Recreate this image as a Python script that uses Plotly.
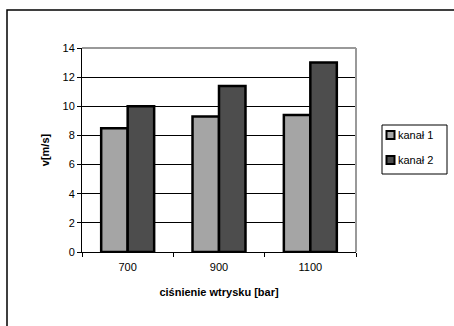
import plotly.graph_objects as go

categories = ["700", "900", "1100"]
kanal1 = [8.5, 9.3, 9.4]
kanal2 = [10.0, 11.4, 13.0]
series_names = ["kanał 1", "kanał 2"]
series_colors = ["#a5a5a5", "#4d4d4d"]
yticks = [0, 2, 4, 6, 8, 10, 12, 14]

FONT = "Liberation Sans, Arial, sans-serif"

fig = go.Figure()
for vals, name, col in zip([kanal1, kanal2], series_names, series_colors):
    fig.add_trace(go.Bar(x=categories, y=vals, name=name,
                         marker=dict(color=col, line=dict(color="black", width=2.5))))

W, H = 454, 326
L, R, T, B = 82, 98, 48, 74
pw, ph = W - L - R, H - T - B

def px(x):
    return (x - L) / pw

def py(y):
    return (H - B - y) / ph

fig.update_layout(
    width=W, height=H,
    margin=dict(l=L, r=R, t=T, b=B, pad=0),
    paper_bgcolor="white", plot_bgcolor="white",
    font=dict(family=FONT, size=11, color="black"),
    barmode="group", bargap=0.42, bargroupgap=0,
    showlegend=False,
    xaxis=dict(showline=True, linecolor="black", linewidth=1,
               ticks="outside", tickson="boundaries", ticklen=4, tickcolor="black",
               ticklabelstandoff=5,
               title=dict(text="<b>ciśnienie wtrysku [bar]</b>", standoff=16,
                          font=dict(family=FONT, size=11)),
               tickfont=dict(family=FONT, size=11), mirror=False),
    yaxis=dict(range=[0, 14], tickvals=yticks, showline=True, linecolor="black", linewidth=1,
               ticks="outside", ticklen=4, tickcolor="black",
               showgrid=True, gridcolor="black", gridwidth=1, zeroline=False,
               title=dict(text="<b>v[m/s]</b>", standoff=10, font=dict(family=FONT, size=11)),
               tickfont=dict(family=FONT, size=11)),
)

# plot-area top/right grey border
fig.add_shape(type="line", xref="paper", yref="paper", x0=0, x1=1, y0=1, y1=1,
              line=dict(color="#999999", width=2))
fig.add_shape(type="line", xref="paper", yref="paper", x0=1, x1=1, y0=0, y1=1,
              line=dict(color="#999999", width=2))
# outer chart border: top and left edges only
x0, y0, x1, y1 = px(7), py(10), px(454), py(326)
fig.add_shape(type="path", xref="paper", yref="paper",
              path=f"M {x1} {y0} L {x0} {y0} L {x0} {y1}",
              line=dict(color="black", width=1.5))

# legend box
fig.add_shape(type="rect", xref="paper", yref="paper", x0=px(382), x1=px(447), y0=py(125), y1=py(174),
              line=dict(color="black", width=1), fillcolor="white")
for i, (name, col) in enumerate(zip(series_names, series_colors)):
    cy = 135 + i * 25
    fig.add_shape(type="rect", xref="paper", yref="paper",
                  x0=px(386.5), x1=px(394.5), y0=py(cy - 4), y1=py(cy + 4),
                  line=dict(color="black", width=2), fillcolor=col)
    fig.add_annotation(xref="paper", yref="paper", x=px(396), y=py(cy), text=name,
                       showarrow=False, xanchor="left", yanchor="middle",
                       font=dict(family=FONT, size=11, color="black"))

fig.write_html("out.html", config={"displayModeBar": False})
